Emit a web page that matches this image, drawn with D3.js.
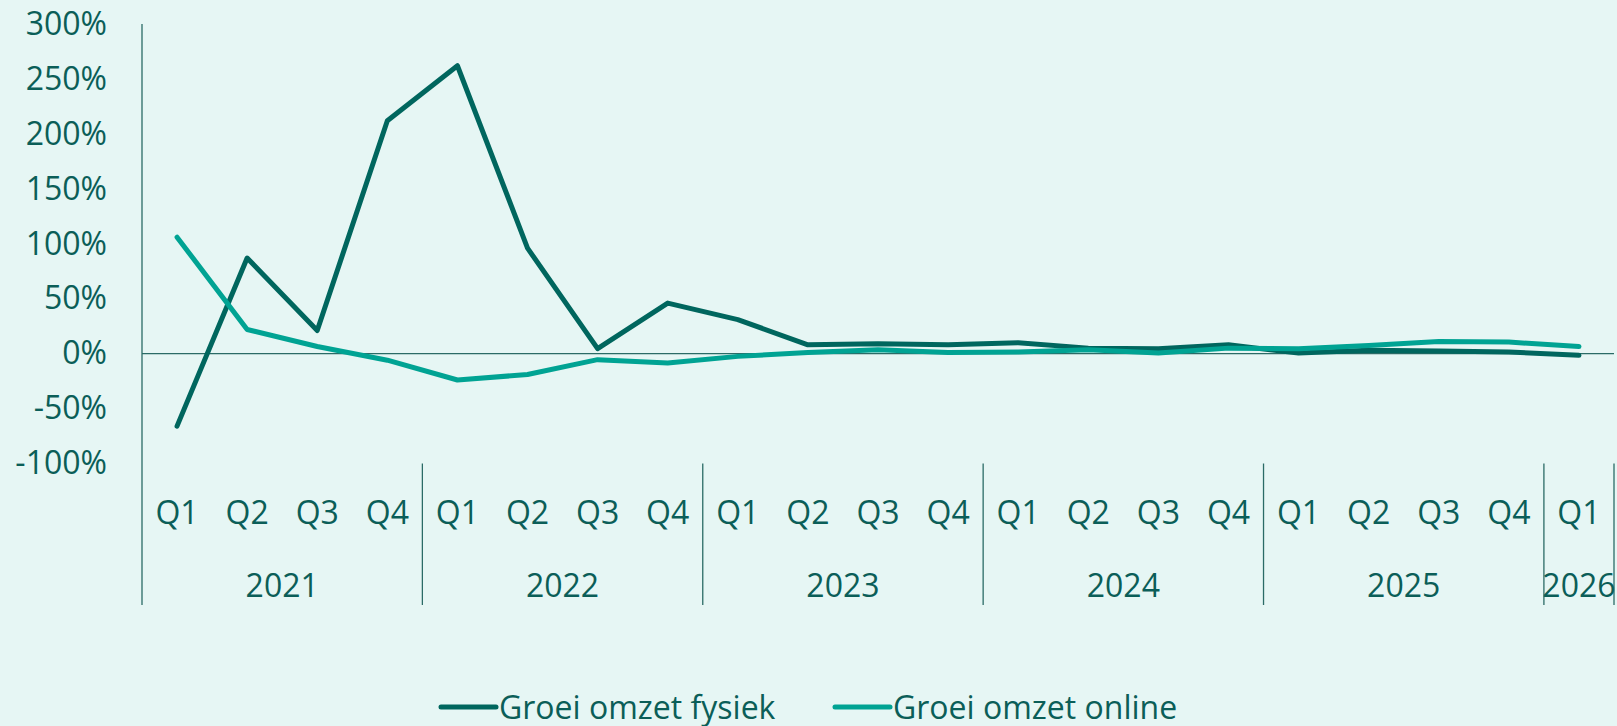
<!DOCTYPE html>
<html>
<head>
<meta charset="utf-8">
<script src="https://cdn.jsdelivr.net/npm/d3@7"></script>
<style>
  html, body { margin: 0; padding: 0; background: #e6f6f4; }
  svg { display: block; font-family: "Open Sans", "Noto Sans", sans-serif; }
</style>
</head>
<body>
<svg id="chart" width="1617" height="726"></svg>
<script>
// quarters per year (2026 only has Q1 so far)
const years = ["2021", "2022", "2023", "2024", "2025", "2026"];
const quartersPerYear = [
  ["Q1", "Q2", "Q3", "Q4"],
  ["Q1", "Q2", "Q3", "Q4"],
  ["Q1", "Q2", "Q3", "Q4"],
  ["Q1", "Q2", "Q3", "Q4"],
  ["Q1", "Q2", "Q3", "Q4"],
  ["Q1"]
];

// growth in % vs same quarter previous year
const groeiFysiek = [-66, 87, 21, 212, 262, 96, 4.5, 46, 31, 8, 9, 8, 10, 5, 4.5, 8, 0.5, 3, 2.5, 1.5, -1.5];
const groeiOnline = [106, 22, 6.5, -6, -24, -19, -5.5, -8.5, -2.5, 1, 3.5, 1, 1.5, 3.5, 0.5, 5, 4.5, 7.5, 11, 10.5, 6.5];

const yTicks = [-100, -50, 0, 50, 100, 150, 200, 250, 300];

const seriesNames = ["Groei omzet fysiek", "Groei omzet online"];
const seriesColors = ["#00665e", "#00a393"];

const textColor = "#0b5e58";
const axisColor = "#2b6b66";
const fontSize = "32px";

const svg = d3.select("#chart");

const plot = { left: 142, right: 1614, top: 24, bottom: 463.5 };
const axisBottomY = 605;

// flat list of categories
const cats = [];
years.forEach((yr, i) => {
  quartersPerYear[i].forEach(q => cats.push({ key: yr + "-" + q, year: yr, q: q }));
});

const x = d3.scaleBand()
  .domain(cats.map(d => d.key))
  .range([plot.left, plot.right])
  .padding(0);

const y = d3.scaleLinear()
  .domain([-100, 300])
  .range([plot.bottom, plot.top]);

const cx = k => x(k) + x.bandwidth() / 2;

// Y axis labels (no ticks, no domain)
const yAxis = d3.axisLeft(y)
  .tickValues(yTicks)
  .tickSize(0)
  .tickPadding(0)
  .tickFormat(d => d + "%");

const yAxisG = svg.append("g")
  .attr("transform", "translate(107,0)")
  .call(yAxis);
yAxisG.select(".domain").remove();
yAxisG.selectAll("text")
  .attr("fill", textColor)
  .style("font-size", fontSize)
  .style("font-family", "'Open Sans', 'Noto Sans', sans-serif");

// vertical axis line
svg.append("line")
  .attr("x1", plot.left).attr("x2", plot.left)
  .attr("y1", plot.top).attr("y2", axisBottomY)
  .attr("stroke", axisColor)
  .attr("stroke-width", 1.3);

// zero line
svg.append("line")
  .attr("x1", plot.left).attr("x2", plot.right)
  .attr("y1", y(0)).attr("y2", y(0))
  .attr("stroke", axisColor)
  .attr("stroke-width", 1.3);

// year separators + labels
let idx = 0;
years.forEach((yr, i) => {
  const n = quartersPerYear[i].length;
  const first = cats[idx].key;
  const last = cats[idx + n - 1].key;
  const x0 = x(first);
  const x1 = x(last) + x.bandwidth();
  svg.append("line")
    .attr("x1", x1).attr("x2", x1)
    .attr("y1", plot.bottom).attr("y2", axisBottomY)
    .attr("stroke", axisColor)
    .attr("stroke-width", 1.3);
  svg.append("text")
    .attr("x", (x0 + x1) / 2)
    .attr("y", 597)
    .attr("text-anchor", "middle")
    .attr("fill", textColor)
    .style("font-size", fontSize)
    .text(yr);
  idx += n;
});

// quarter labels
svg.append("g")
  .selectAll("text")
  .data(cats)
  .enter()
  .append("text")
  .attr("x", d => cx(d.key))
  .attr("y", 524)
  .attr("text-anchor", "middle")
  .attr("fill", textColor)
  .style("font-size", fontSize)
  .text(d => d.q);

// lines
const line = d3.line()
  .x((d, i) => cx(cats[i].key))
  .y(d => y(d));

[groeiFysiek, groeiOnline].forEach((vals, s) => {
  svg.append("path")
    .datum(vals)
    .attr("d", line)
    .attr("fill", "none")
    .attr("stroke", seriesColors[s])
    .attr("stroke-width", 5)
    .attr("stroke-linejoin", "round")
    .attr("stroke-linecap", "round");
});

// legend
const legendX = [441, 835];
seriesNames.forEach((name, i) => {
  const lg = svg.append("g").attr("transform", `translate(${legendX[i]},707)`);
  lg.append("line")
    .attr("x1", 0).attr("x2", 55)
    .attr("stroke", seriesColors[i])
    .attr("stroke-width", 5)
    .attr("stroke-linecap", "round");
  lg.append("text")
    .attr("x", 58)
    .attr("y", 11.5)
    .attr("fill", textColor)
    .style("font-size", fontSize)
    .text(name);
});
</script>
</body>
</html>
